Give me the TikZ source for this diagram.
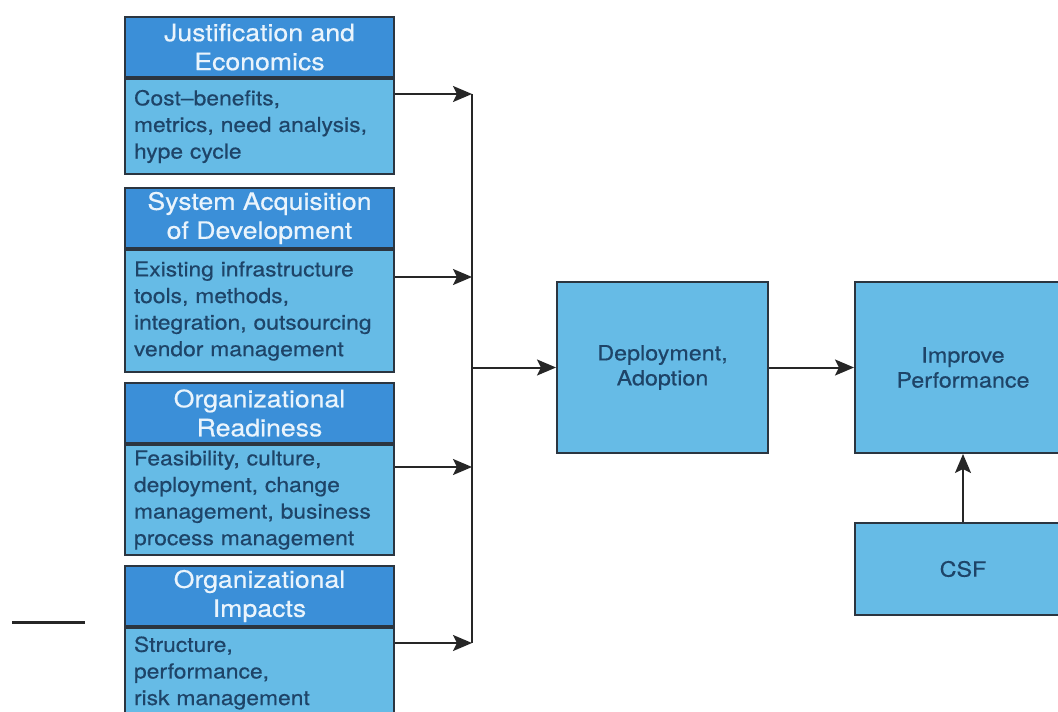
\documentclass[tikz,border=0pt]{standalone}
\usepackage{fontspec}
\setmainfont[FakeStretch=1.11, FakeBold=0.5]{TeX Gyre Heros}
\usepackage{tikz}
\usetikzlibrary{arrows.meta}
\usetikzlibrary{positioning}

\definecolor{headblue}{HTML}{3B8FD8}
\definecolor{bodyblue}{HTML}{66BBE6}
\definecolor{edgegray}{HTML}{2B3540}
\definecolor{inkblue}{HTML}{1E4468}
\definecolor{headtext}{HTML}{EAF4FC}

\tikzset{
  head/.style={draw=edgegray, line width=1pt, fill=headblue, text=headtext,
    minimum width=134.5pt, minimum height=30pt, inner sep=0pt, align=center,
    font=\fontsize{12}{14.5}\selectfont, anchor=north west},
  body/.style={draw=edgegray, line width=1pt, fill=bodyblue, text=inkblue,
    text width=125.5pt, inner xsep=4.5pt, inner ysep=0pt, align=left,
    font=\fontsize{10.3}{13.3}\selectfont},
  block/.style={draw=edgegray, line width=1pt, fill=bodyblue, text=inkblue,
    inner sep=0pt, align=center, font=\fontsize{10.5}{12.5}\selectfont},
  link/.style={draw=black!85, line width=1pt,
    -{Stealth[length=9.5pt,width=8pt,inset=2pt]}},
}

\begin{document}
\begin{tikzpicture}[x=0.5pt, y=-0.5pt]
  \clip (0,0) rectangle (1058,711);
  \fill[white] (0,0) rectangle (1058,711);

  % left column
  \node[head] (h1) at (124,16) {Justification and\\Economics};
  \node[body, minimum height=47.5pt, below=0pt of h1] (b1)
    {Cost--benefits,\\metrics, need analysis,\\hype cycle};

  \node[head] (h2) at (124,187) {System Acquisition\\of Development};
  \node[body, minimum height=61pt, below=0pt of h2] (b2)
    {Existing infrastructure\\tools, methods,\\integration, outsourcing\\vendor management};

  \node[head] (h3) at (124,382) {Organizational\\Readiness};
  \node[body, minimum height=55pt, below=0pt of h3] (b3)
    {Feasibility, culture,\\deployment, change\\management, business\\process management};

  \node[head] (h4) at (124,565) {Organizational\\Impacts};
  \node[body, minimum height=45pt, below=0pt of h4] (b4)
    {Structure,\\performance,\\risk management};

  % right side
  \node[block, minimum width=105.5pt, minimum height=85.5pt] (dep) at (662.5,367.5)
    {Deployment,\\Adoption};
  \node[block, minimum width=108pt, minimum height=85.5pt] (perf) at (963,367.5)
    {Improve\\Performance};
  \node[block, minimum width=108pt, minimum height=46pt] (csf) at (963,569) {CSF};

  % joins
  \coordinate (j1) at (472,94);
  \coordinate (j2) at (472,277);
  \coordinate (j3) at (472,467);
  \coordinate (j4) at (472,643);
  \coordinate (jm) at (dep.west -| j1);

  \draw[link] (b1.east |- j1) -- (j1);
  \draw[link] (b2.east |- j2) -- (j2);
  \draw[link] (b3.east |- j3) -- (j3);
  \draw[link] (b4.east |- j4) -- (j4);
  \draw[draw=black!85, line width=1pt] (j1) -- (j4);
  \draw[link] (jm) -- (dep);
  \draw[link] (dep) -- (perf);
  \draw[link] (csf) -- (perf);

  % stray mark
  \coordinate (s1) at (12,622);
  \coordinate (s2) at (85,622);
  \draw[black!85, line width=1.5pt] (s1) -- (s2);
\end{tikzpicture}
\end{document}
